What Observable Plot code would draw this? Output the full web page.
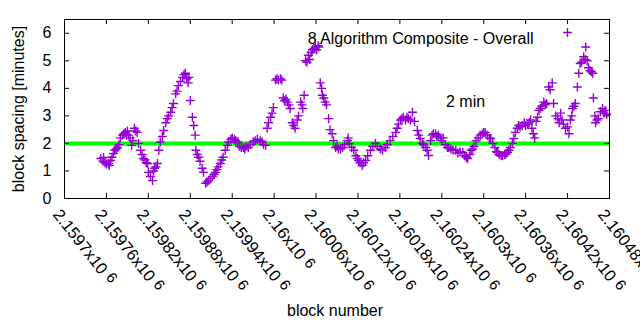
<!DOCTYPE html>
<html><head><meta charset="utf-8">
<script src="https://cdn.jsdelivr.net/npm/d3@7"></script>
<script src="https://cdn.jsdelivr.net/npm/@observablehq/plot@0.6"></script>
<style>body{margin:0;background:#fff} #chart{width:640px;height:330px}</style>
</head><body><div id="chart"></div>
<script>
const blocks = [
2159752,2159755,2159756,2159758,2159760,2159763,2159764,2159766,2159768,2159770,
2159772,2159774,2159776,2159778,2159780,2159783,2159785,2159787,2159789,2159790,
2159792,2159794,2159796,2159798,2159800,2159802,2159804,2159806,2159809,2159811,
2159813,2159815,2159817,2159819,2159820,2159823,2159826,2159827,2159829,2159831,
2159833,2159835,2159837,2159840,2159842,2159845,2159847,2159849,2159852,2159854,
2159856,2159859,2159861,2159863,2159866,2159869,2159871,2159873,2159875,2159877,
2159878,2159880,2159883,2159885,2159887,2159888,2159890,2159892,2159894,2159897,
2159899,2159902,2159904,2159906,2159909,2159912,2159914,2159916,2159918,2159920,
2159923,2159925,2159927,2159930,2159933,2159935,2159938,2159940,2159943,2159945,
2159948,2159950,2159953,2159956,2159958,2159960,2159963,2159966,2159970,2159973,
2159976,2159980,2159983,2159985,2159988,2159990,2159992,2159995,2159997,2159999,
2160002,2160004,2160006,2160009,2160011,2160013,2160015,2160017,2160019,2160021,
2160023,2160026,2160028,2160030,2160033,2160035,2160038,2160040,2160041,2160043,
2160045,2160047,2160049,2160051,2160053,2160055,2160057,2160059,2160061,2160063,
2160064,2160066,2160068,2160069,2160071,2160073,2160075,2160078,2160080,2160083,
2160085,2160088,2160090,2160092,2160095,2160098,2160101,2160105,2160106,2160108,
2160111,2160114,2160117,2160119,2160121,2160123,2160126,2160128,2160131,2160134,
2160138,2160141,2160145,2160148,2160152,2160155,2160159,2160162,2160166,2160170,
2160174,2160176,2160178,2160181,2160183,2160185,2160188,2160190,2160192,2160195,
2160198,2160201,2160205,2160207,2160209,2160212,2160214,2160217,2160219,2160221,
2160224,2160226,2160228,2160231,2160233,2160235,2160238,2160240,2160242,2160245,
2160248,2160250,2160253,2160256,2160260,2160263,2160266,2160270,2160273,2160275,
2160277,2160280,2160282,2160284,2160286,2160289,2160292,2160295,2160298,2160300,
2160302,2160305,2160308,2160310,2160313,2160316,2160318,2160320,2160322,2160325,
2160327,2160330,2160332,2160334,2160336,2160338,2160341,2160343,2160345,2160348,
2160350,2160352,2160355,2160358,2160360,2160363,2160365,2160367,2160369,2160371,
2160373,2160375,2160377,2160379,2160381,2160383,2160386,2160388,2160390,2160393,
2160395,2160398,2160400,2160403,2160406,2160408,2160410,2160412,2160414,2160417,
2160420,2160422,2160424,2160426,2160427,2160429,2160431,2160434,2160436,2160438,
2160440,2160443,2160445,2160446,2160448,2160450,2160452,2160454,2160456,2160457,
2160459,2160460,2160462,2160464,2160467,2160470,2160472,2160474,2160476
];
const spacing = [
1.45,1.35,1.49,1.30,1.25,1.27,1.20,1.38,1.50,1.63,
1.75,1.80,1.85,1.95,2.20,2.30,2.35,2.40,2.30,2.45,
2.30,2.20,1.93,2.10,2.55,2.45,2.40,2.00,1.75,1.60,
1.45,1.40,1.30,1.27,0.95,0.80,0.65,1.00,1.10,1.15,
1.27,1.75,2.05,2.25,2.47,2.75,2.90,3.00,3.13,3.30,
3.45,3.80,3.90,4.10,4.25,4.40,4.50,4.55,4.35,4.20,
4.40,3.56,2.95,2.65,2.30,1.75,1.60,1.50,1.35,1.10,
0.95,0.55,0.60,0.65,0.72,0.80,0.88,0.95,1.05,1.15,
1.27,1.40,1.50,1.75,1.93,2.05,2.15,2.20,2.15,2.10,
2.05,1.90,1.85,1.85,1.80,1.90,1.85,1.95,2.05,2.10,
2.15,2.10,2.05,1.95,1.93,2.55,2.75,2.95,3.10,3.30,
4.30,4.35,4.30,4.35,4.30,3.65,3.55,3.60,3.50,3.40,
3.27,2.75,2.65,2.55,2.85,3.00,3.50,3.40,3.27,3.75,
5.00,4.95,5.20,5.05,5.30,5.40,5.45,5.50,5.40,5.55,
5.50,4.20,4.00,3.75,3.65,3.50,3.40,2.90,2.50,2.35,
2.10,1.85,1.90,1.80,1.80,1.85,1.95,2.10,2.20,2.00,
1.85,1.75,1.55,1.45,1.38,1.30,1.20,1.30,1.38,1.55,
1.75,1.90,2.00,1.90,1.80,1.75,1.85,1.95,2.10,2.25,
2.40,2.55,2.70,2.85,2.90,2.95,2.85,2.95,2.90,2.85,
3.13,2.80,2.47,2.30,2.18,2.00,1.95,1.85,1.75,1.56,
2.10,2.30,2.35,2.35,2.25,2.30,2.20,2.10,2.20,1.95,
1.85,1.85,1.80,1.75,1.75,1.65,1.70,1.67,1.55,1.50,
1.45,1.60,1.75,1.80,1.90,2.10,2.20,2.30,2.35,2.40,
2.40,2.30,2.20,2.18,2.00,1.85,1.70,1.67,1.60,1.55,
1.56,1.60,1.62,1.67,1.75,1.85,2.00,2.18,2.40,2.55,
2.65,2.60,2.65,2.75,2.65,2.70,2.75,2.85,2.55,2.35,
2.20,2.80,2.95,3.20,3.27,3.35,3.50,3.40,3.45,4.05,
3.95,4.20,3.45,3.00,2.90,2.75,3.10,2.85,2.70,2.55,
2.60,2.35,2.85,3.00,3.27,3.35,3.45,4.05,4.55,4.90,
4.95,5.15,5.05,5.50,5.00,4.75,4.65,4.60,4.55,3.65,
3.00,2.75,2.85,2.90,3.15,3.27,3.10,3.20,3.05
];
const xTicks = [2159700,2159760,2159820,2159880,2159940,2160000,2160060,2160120,2160180,2160240,2160300,2160360,2160420,2160480];
const xTickMantissa = ["2.1597","2.15976","2.15982","2.15988","2.15994","2.16","2.16006","2.16012","2.16018","2.16024","2.1603","2.16036","2.16042","2.16048"];
const xTickExponent = "6";
const yTicks = [0,1,2,3,4,5,6];
const targetLine = [2];
const seriesName = "8 Algorithm Composite - Overall";
const annotations = [{block: 2160274, value: 3.5, text: "2 min"}];
const xLabel = "block number";
const yLabel = "block spacing [minutes]";

const data = blocks.map((b, i) => ({block: b, spacing: spacing[i]}));
const plus = {draw(ctx, size) { const h = Math.sqrt(size / Math.PI); ctx.moveTo(-h, 0); ctx.lineTo(h, 0); ctx.moveTo(0, -h); ctx.lineTo(0, h); }};
const purple = "#9400d3";

const chart = Plot.plot({
  width: 640, height: 330,
  marginLeft: 64, marginRight: 31, marginTop: 19, marginBottom: 132,
  style: {fontFamily: "'Liberation Sans', Arial, sans-serif", fontSize: "16px", background: "white", color: "black"},
  x: {domain: [2159700, 2160480], axis: null},
  y: {domain: [0, 6.5], axis: null},
  marks: [
    Plot.ruleY(targetLine, {y: d => d, stroke: "#00ff00", strokeWidth: 4}),
    Plot.dot(data, {x: "block", y: "spacing", symbol: plus, r: 4.5, stroke: purple, strokeWidth: 1.4, fill: "none"}),
    Plot.frame({stroke: "black", strokeWidth: 1}),
    Plot.tickX(xTicks, {x: d => d, insetTop: 174, stroke: "black"}),
    Plot.tickX(xTicks, {x: d => d, insetBottom: 174, stroke: "black"}),
    Plot.tickY(yTicks, {y: d => d, insetRight: 540, stroke: "black"}),
    Plot.tickY(yTicks, {y: d => d, insetLeft: 540, stroke: "black"}),
    Plot.text(yTicks, {y: d => d, text: d => String(d), frameAnchor: "left", dx: -13, textAnchor: "end", fontSize: 16}),
    Plot.text(xTicks, {x: d => d, text: (d, i) => xTickMantissa[i] + "x10", frameAnchor: "bottom", rotate: 52, textAnchor: "start", lineAnchor: "top", dx: -3, dy: 9, fontSize: 16.5}),
    Plot.text([yLabel], {frameAnchor: "left", rotate: -90, dx: -46, textAnchor: "middle", fontSize: 16}),
    Plot.text([xLabel], {frameAnchor: "bottom", dx: -2, dy: 117, fontSize: 16}),
    Plot.text([seriesName], {frameAnchor: "top-right", dx: -76, dy: 13, textAnchor: "end", fontSize: 16}),
    Plot.dot([seriesName], {frameAnchor: "top-right", dx: -42, dy: 13, symbol: plus, r: 4.5, stroke: purple, strokeWidth: 1.4, fill: "none"}),
    Plot.text(annotations, {x: "block", y: "value", text: "text", fontSize: 16})
  ]
});
document.getElementById("chart").appendChild(chart);
d3.select(chart).selectAll("text").each(function() {
  const t = this.textContent;
  if (/x10$/.test(t)) {
    d3.select(this).append("tspan").attr("dx", 5).attr("dy", -3).attr("font-size", 15).text(xTickExponent);
  }
});
</script>
</body></html>
